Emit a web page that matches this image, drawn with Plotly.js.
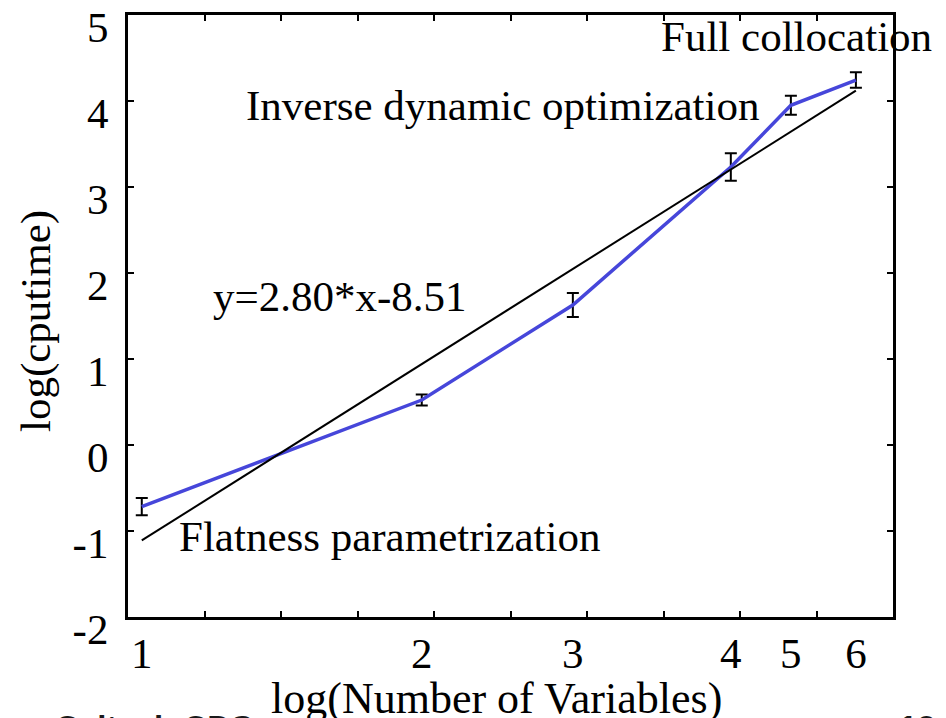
<!DOCTYPE html>
<html>
<head>
<meta charset="utf-8">
<script src="https://cdn.plot.ly/plotly-3.0.1.min.js"></script>
<style>html,body{margin:0;padding:0;background:#fff;}#chart{width:946px;height:718px;}</style>
</head>
<body>
<div id="chart"></div>
<script>
// Data
const methodLabels = ['1', '2', '3', '4', '5', '6'];
const logVars = [2.636, 3.368, 3.763, 4.176, 4.333, 4.503];
const logCpu = [-0.717, 0.523, 1.628, 3.233, 3.95, 4.244];
const cpuErr = [0.10, 0.065, 0.14, 0.16, 0.11, 0.09];
const fitX = [2.636, 4.503];
const fitY = [-1.11, 4.12];
const yTicks = [-2, -1, 0, 1, 2, 3, 4, 5];
const yTickText = ['-2', '-1', '0', '1', '2', '3', '4', '5'];

const serif = 'Liberation Serif, Times New Roman, serif';
const F = 43;

const traces = [
  {
    x: logVars, y: logCpu, type: 'scatter', mode: 'lines',
    line: {color: 'rgb(70,70,218)', width: 3.5},
    error_y: {type: 'data', array: cpuErr, visible: true, color: '#000', thickness: 2, width: 6},
    showlegend: false, hoverinfo: 'skip'
  },
  {
    x: fitX, y: fitY, type: 'scatter', mode: 'lines',
    line: {color: '#000', width: 2},
    showlegend: false, hoverinfo: 'skip'
  },
  {
    x: logVars, y: logCpu, xaxis: 'x2', type: 'scatter', mode: 'none',
    showlegend: false, hoverinfo: 'skip'
  }
];

const layout = {
  width: 946, height: 718,
  margin: {l: 128, r: 53, t: 15, b: 101},
  paper_bgcolor: '#fff', plot_bgcolor: '#fff',
  showlegend: false,
  font: {family: serif, size: F, color: '#000'},
  xaxis: {
    range: [2.6, 4.6], dtick: 0.2, tick0: 2.6,
    showticklabels: false, ticks: 'inside', ticklen: 6, tickwidth: 2, tickcolor: '#000',
    showline: true, linewidth: 3, linecolor: '#000', mirror: 'ticks',
    showgrid: false, zeroline: false
  },
  xaxis2: {
    overlaying: 'x', anchor: 'y', side: 'bottom',
    range: [2.6, 4.6], tickmode: 'array', tickvals: logVars, ticktext: methodLabels,
    ticks: '', showline: false, showgrid: false, zeroline: false,
    tickfont: {family: serif, size: F, color: '#000'},
    ticklabelstandoff: 7
  },
  yaxis: {
    range: [-2, 5], tickmode: 'array', tickvals: yTicks, ticktext: yTickText,
    ticks: 'inside', ticklen: 6, tickwidth: 2, tickcolor: '#000',
    showline: true, linewidth: 3, linecolor: '#000', mirror: 'ticks',
    showgrid: false, zeroline: false,
    tickfont: {family: serif, size: F, color: '#000'},
    ticklabelstandoff: 8, ticklabelshift: 12
  },
  annotations: [
    {text: 'Full collocation', x: (3.988 - 2.6) / 2, y: (617 - 10.7) / 602, xref: 'paper', yref: 'paper', xanchor: 'left', yanchor: 'top', showarrow: false, font: {family: serif, size: F, color: '#000'}},
    {text: 'Inverse dynamic optimization', x: 2.903, y: 4.24, xref: 'x', yref: 'y', xanchor: 'left', yanchor: 'top', showarrow: false, font: {family: serif, size: F, color: '#000'}},
    {text: 'y=2.80*x-8.51', x: 2.817, y: 2.027, xref: 'x', yref: 'y', xanchor: 'left', yanchor: 'top', showarrow: false, font: {family: serif, size: F, color: '#000'}},
    {text: 'Flatness parametrization', x: 2.728, y: -0.764, xref: 'x', yref: 'y', xanchor: 'left', yanchor: 'top', showarrow: false, font: {family: serif, size: F, color: '#000'}},
    {text: 'log(Number of Variables)', x: (496 - 128) / 765, y: (617 - 672) / 602, xref: 'paper', yref: 'paper', xanchor: 'center', yanchor: 'top', showarrow: false, font: {family: serif, size: 44, color: '#000'}},
    {text: 'log(cputime)', x: (36 - 128) / 765, y: (617 - 321) / 602, xref: 'paper', yref: 'paper', xanchor: 'center', yanchor: 'middle', textangle: -90, showarrow: false, font: {family: serif, size: F, color: '#000'}},
    {text: '<b>Caltech CDS</b>', x: (53 - 128) / 765, y: (617 - 707) / 602, xref: 'paper', yref: 'paper', xanchor: 'left', yanchor: 'top', showarrow: false, font: {family: 'Liberation Sans, Arial, sans-serif', size: 33, color: '#1a1a1a'}},
    {text: '<b>12</b>', x: (897 - 128) / 765, y: (617 - 707) / 602, xref: 'paper', yref: 'paper', xanchor: 'left', yanchor: 'top', showarrow: false, font: {family: 'Liberation Sans, Arial, sans-serif', size: 33, color: '#1a1a1a'}}
  ]
};

Plotly.newPlot('chart', traces, layout, {staticPlot: true, displayModeBar: false});
</script>
</body>
</html>
